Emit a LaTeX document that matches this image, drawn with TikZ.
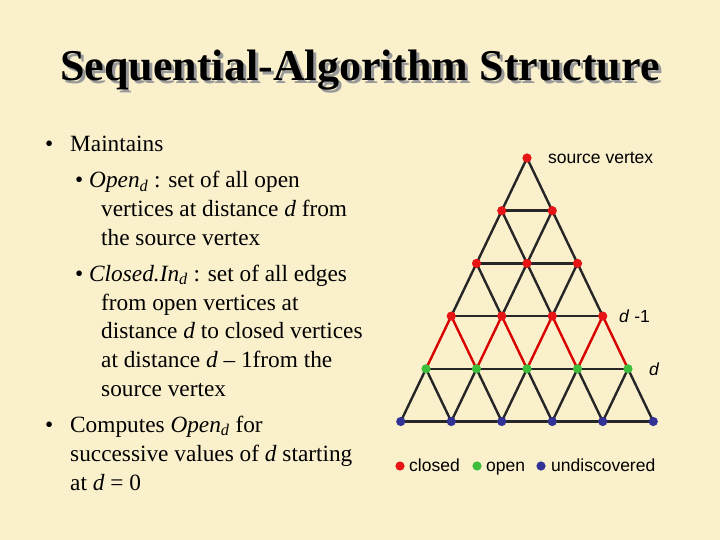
\documentclass[tikz,border=0pt]{standalone}
\usepackage{fontspec}
\setmainfont{Liberation Serif}
\setsansfont{Liberation Sans}
\begin{document}
\begin{tikzpicture}[x=1pt,y=-1pt,
  txt/.style={anchor=base west,inner sep=0pt,font=\fontsize{23.3}{26}\selectfont},
  lab/.style={anchor=base west,inner sep=0pt,font=\sffamily\fontsize{17.5}{19}\selectfont},
  vtx/.style={circle,inner sep=0pt,minimum size=9pt},
  edge/.style={line width=2.4pt,black!85},
  redge/.style={line width=2.4pt,red!85!black}]
\definecolor{bg}{RGB}{250,240,204}
\definecolor{cl}{RGB}{230,20,20}
\definecolor{op}{RGB}{60,190,60}
\definecolor{un}{RGB}{50,50,150}
\fill[bg] (0,0) rectangle (720,540);
\useasboundingbox (0,0) rectangle (720,540);
\node[font=\bfseries\fontsize{44}{46}\selectfont,text=black!40] (tsh) at (363,73) {Sequential-Algorithm Structure};
\node[font=\bfseries\fontsize{44}{46}\selectfont] (title) at (360,70) {Sequential-Algorithm Structure};
% text
\node[txt] (b1) at (45,152) {•};
\node[txt] (l1) at (70,152) {Maintains};
\node[txt] (b2) at (75,188) {•};
\node[txt] (l2) at (89,188) {\textit{Open}\textsubscript{\textit{d}} : set of all open};
\node[txt] (l3) at (101,216) {vertices at distance \textit{d} from};
\node[txt] (l4) at (101,245) {the source vertex};
\node[txt] (b3) at (75,281) {•};
\node[txt] (l5) at (89,281) {\textit{Closed.In}\textsubscript{\textit{d}} : set of all edges};
\node[txt] (l6) at (101,310) {from open vertices at};
\node[txt] (l7) at (101,338) {distance \textit{d} to closed vertices};
\node[txt] (l8) at (101,367) {at distance \textit{d} – 1from the};
\node[txt] (l9) at (101,396) {source vertex};
\node[txt] (b4) at (45,432) {•};
\node[txt] (l10) at (70,432) {Computes \textit{Open}\textsubscript{\textit{d}} for};
\node[txt] (l11) at (70,461) {successive values of \textit{d} starting};
\node[txt] (l12) at (70,490) {at \textit{d} = 0};
% vertices (positions)
\foreach \r in {0,...,5}{
  \foreach \i in {0,...,\r}{
    \node[vtx] (n\r-\i) at ({527+(\i-\r/2)*50.5},{158+\r*52.7}) {};
  }
}
% edges
\foreach \r in {0,...,4}{
  \pgfmathtruncatemacro\rr{\r+1}
  \foreach \i in {0,...,\r}{
    \pgfmathtruncatemacro\ii{\i+1}
    \ifnum\r=3
      \draw[redge] (n\r-\i.center) -- (n\rr-\i.center);
      \draw[redge] (n\r-\i.center) -- (n\rr-\ii.center);
    \else
      \draw[edge] (n\r-\i.center) -- (n\rr-\i.center);
      \draw[edge] (n\r-\i.center) -- (n\rr-\ii.center);
    \fi
  }
}
\foreach \r in {1,...,5}{
  \pgfmathtruncatemacro\m{\r-1}
  \foreach \i in {0,...,\m}{
    \pgfmathtruncatemacro\ii{\i+1}
    \draw[edge] (n\r-\i.center) -- (n\r-\ii.center);
  }
}
% vertex dots on top
\foreach \r in {0,...,5}{
  \foreach \i in {0,...,\r}{
    \ifnum\r<4 \def\c{cl}\else\ifnum\r=4 \def\c{op}\else\def\c{un}\fi\fi
    \fill[\c] (n\r-\i) circle (4.6pt);
  }
}
\node[lab] (src) at (548,164) {source vertex};
\node[lab] (dm1) at (619,322) {\textit{d} -1};
\node[lab] (dd) at (649,375) {\textit{d}};
% legend
\fill[cl] (400,466) circle (4.6pt) coordinate (k1);
\node[lab] (lk1) at (409,471) {closed};
\fill[op] (477,466) circle (4.6pt) coordinate (k2);
\node[lab] (lk2) at (486,471) {open};
\fill[un] (541,466) circle (4.6pt) coordinate (k3);
\node[lab] (lk3) at (551,471) {undiscovered};
\end{tikzpicture}
\end{document}
